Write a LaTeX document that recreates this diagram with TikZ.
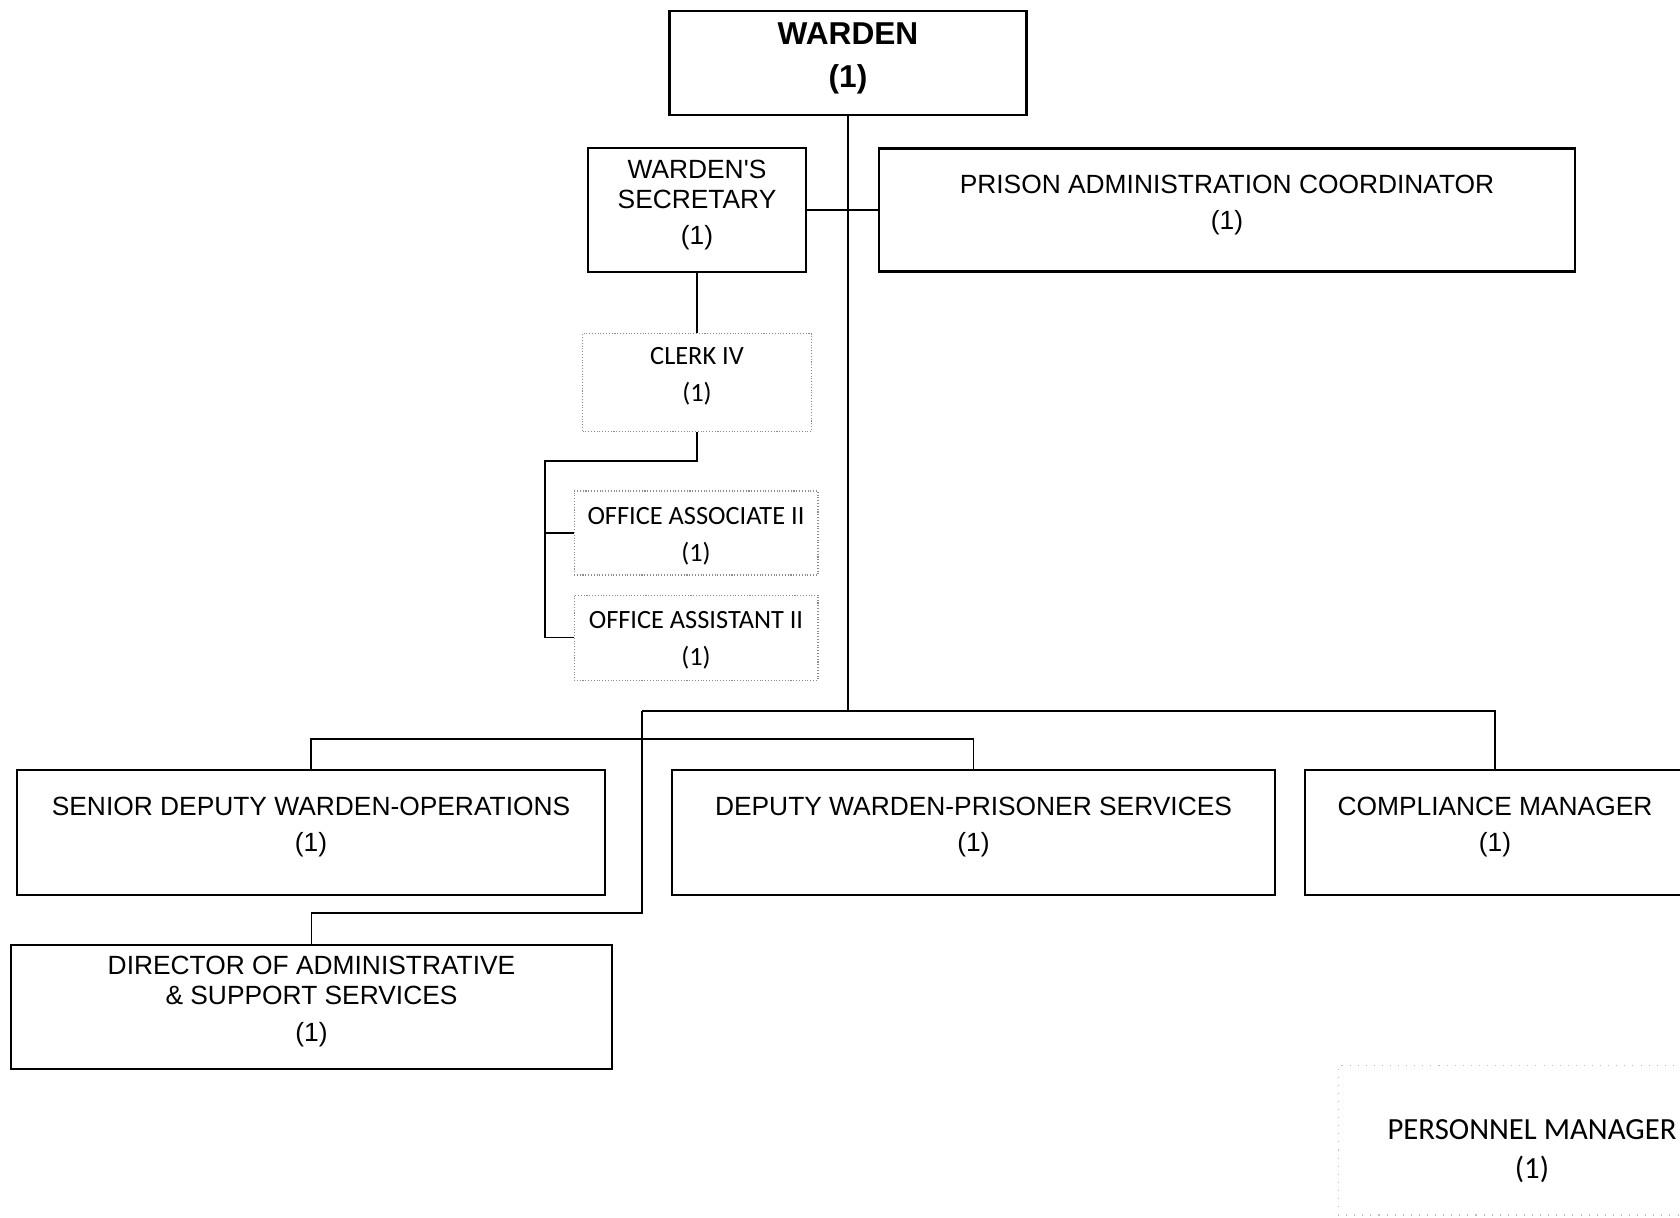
\documentclass[tikz,border=0pt]{standalone}
\usepackage{fontspec}
\setmainfont{Liberation Sans}
\newfontfamily\calibri{Carlito}
\usetikzlibrary{positioning}
\newcommand{\dn}{\rule[-9pt]{0pt}{9pt}}
\newcommand{\up}{\rule{0pt}{24pt}}
\tikzset{
    base/.style={text centered, align=center, inner sep=0pt, font=\fontsize{15}{17}\selectfont},
    post/.style={base, rectangle, draw=black, line width=1.2pt},
    temp/.style={base, rectangle, draw=black!45, densely dotted, line width=0.6pt, font=\calibri\fontsize{15}{21}\selectfont},
    vacant/.style={temp, draw=black!25, loosely dotted, font=\calibri\fontsize{17.5}{22}\selectfont},
    link/.style={line width=1pt, color=black}
}

\begin{document}
\begin{tikzpicture}[x=0.02cm, y=-0.02cm]
        \useasboundingbox (0,0) rectangle (1680,1217);

        % Top
        \node (warden) [post, minimum width=7.14cm, minimum height=2.08cm, font=\bfseries\fontsize{18}{24.5}\selectfont] at (848,63) {WARDEN\\(1)\dn};
        \node (sec) [post, minimum width=4.36cm, minimum height=2.48cm] at (697,210) {WARDEN\textquotesingle S\\SECRETARY\\[3.5pt](1)\dn};
        \node (pac) [post, minimum width=13.92cm, minimum height=2.46cm] at (1227,210) {PRISON ADMINISTRATION COORDINATOR\\[3.5pt](1)\dn};

        % Clerical
        \node (clerk) [temp, minimum width=4.58cm, minimum height=1.96cm, below=1.2cm of sec] {CLERK IV\\(1)\dn};
        \node (assoc) [temp, minimum width=4.88cm, minimum height=1.68cm] at (696,533) {\rule{0pt}{13pt}OFFICE ASSOCIATE II\\(1)};
        \node (assist) [temp, minimum width=4.88cm, minimum height=1.7cm, below=0.38cm of assoc] {\rule{0pt}{13pt}OFFICE ASSISTANT II\\(1)};

        % Deputies
        \node (sdw) [post, minimum width=11.76cm, minimum height=2.5cm] at (311,832.5) {SENIOR DEPUTY WARDEN-OPERATIONS\\[3.5pt](1)\dn};
        \node (dw) [post, minimum width=12.06cm, minimum height=2.5cm] at (973.5,832.5) {DEPUTY WARDEN-PRISONER SERVICES\\[3.5pt](1)\dn};
        \node (comp) [post, minimum width=7.6cm, minimum height=2.5cm] at (1495,832.5) {COMPLIANCE MANAGER\\[3.5pt](1)\dn};
        \node (dir) [post, minimum width=12.02cm, minimum height=2.48cm] at (311.5,1007) {DIRECTOR OF ADMINISTRATIVE\\\& SUPPORT SERVICES\\[4pt](1)\dn};
        \node (pers) [vacant, minimum width=7.76cm, minimum height=3cm] at (1532,1140) {\up PERSONNEL MANAGER\\(1)};

        \coordinate (bus) at (848,711);
        \coordinate (busL) at (642,711);
        \coordinate (elbow) at (545,461);

        \draw [link] (warden.south) -- (bus);
        \draw [link] (sec.east) -- (pac.west);
        \draw [link] (sec) -- (clerk);
        \draw [link] (clerk.south) |- (elbow) |- (assist.west);
        \draw [link] (elbow) |- (assoc.west);
        \draw [link] (busL) -- (bus) -| (comp.north);
        \draw [link] (busL) -- ++(0,202) -| (dir.north);
        \draw [link] (sdw.north) -- ++(0,-30) -| (dw.north);
    \end{tikzpicture}
\end{document}
